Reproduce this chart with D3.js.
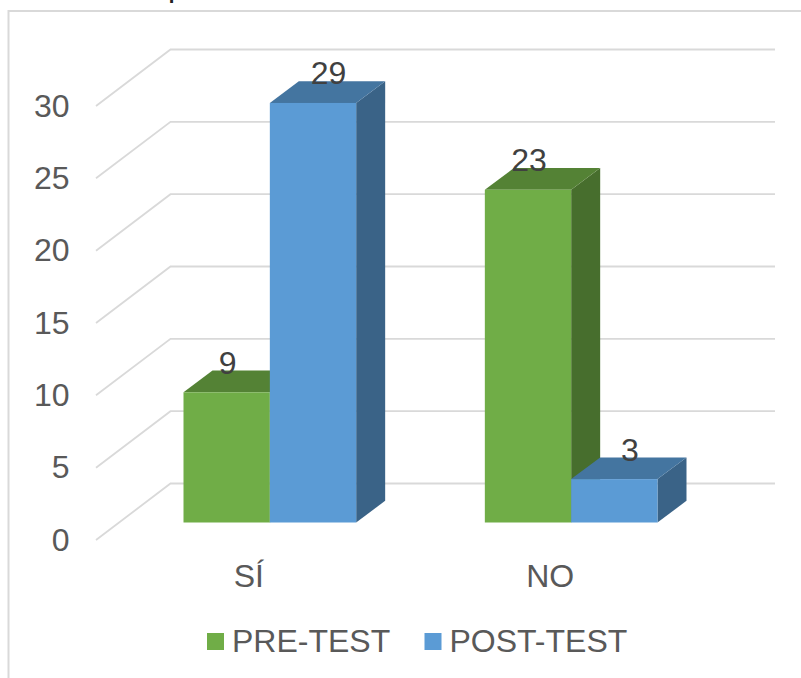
<!DOCTYPE html>
<html>
<head>
<meta charset="utf-8">
<script src="https://cdn.jsdelivr.net/npm/d3@7"></script>
<style>
  html, body { margin: 0; padding: 0; background: #fff; }
  svg { display: block; }
  text { font-family: "Liberation Sans", Arial, sans-serif; }
</style>
</head>
<body>
<svg id="chart"></svg>
<script>
const categories = ['SÍ', 'NO'];
const seriesNames = ['PRE-TEST', 'POST-TEST'];
const preTest = [9, 23];
const postTest = [29, 3];
const yTicks = [0, 5, 10, 15, 20, 25, 30];

const width = 801;
const height = 678;
const depthX = 29;
const depthY = 21.7;
const fontSize = 32;

const svg = d3.select('#chart').attr('width', width).attr('height', height);

// front plane of the bars
const y = d3.scaleLinear().domain([0, 30]).range([522.5, 88.5]);
const x0 = d3.scaleBand().domain(categories).range([183.5, 657.5]).paddingInner(0.427).paddingOuter(0);
const x1 = d3.scaleBand().domain(seriesNames).range([0, x0.bandwidth()]);
const color = d3.scaleOrdinal(seriesNames, ['#70ad47', '#5b9bd5']);

// clipped bit of the title, only the descender shows
svg.append('text')
    .attr('x', 168)
    .attr('y', -4)
    .attr('font-size', fontSize)
    .attr('fill', '#222')
    .text('p');

// chart frame, the right and bottom edges run off the picture
svg.append('path')
    .attr('d', d3.line()([[8.5, height], [8.5, 11], [width, 11]]))
    .attr('fill', 'none').attr('stroke', '#d9d9d9').attr('stroke-width', 2);

// gridlines: wall then floor diagonal
const wallY = d => y(d) - 39;
svg.append('g').selectAll('path')
    .data(yTicks)
    .join('path')
    .attr('d', d => d3.line()([[96, wallY(d) + 56.5], [170.5, wallY(d)], [775, wallY(d)]]))
    .attr('fill', 'none').attr('stroke', '#d9d9d9').attr('stroke-width', 1.8);

// y tick labels
svg.append('g').selectAll('text')
    .data(yTicks)
    .join('text')
    .attr('x', 69.5)
    .attr('y', d => wallY(d) + 56.5 + 10.5)
    .attr('text-anchor', 'end')
    .attr('font-size', fontSize)
    .attr('fill', '#595959')
    .text(d => d);

// category labels sit a bit left of their bars
svg.append('g').selectAll('text')
    .data(categories)
    .join('text')
    .attr('x', d => x0(d) + x0.bandwidth() / 2 - 21)
    .attr('y', 587)
    .attr('text-anchor', 'middle')
    .attr('font-size', fontSize)
    .attr('fill', '#595959')
    .text(d => d);

const rows = categories.flatMap((c, i) => [
    { cat: c, name: seriesNames[0], value: preTest[i] },
    { cat: c, name: seriesNames[1], value: postTest[i] }
]);

// draw order: pre-test first so post-test sits over its side wall
const bars = svg.append('g').selectAll('g')
    .data(rows)
    .join('g')
    .attr('transform', d => `translate(${x0(d.cat) + x1(d.name)},0)`);

const bw = x1.bandwidth();

bars.append('path') // side
    .attr('d', d => d3.line()([[bw, y(d.value)], [bw + depthX, y(d.value) - depthY], [bw + depthX, y(0) - depthY], [bw, y(0)]]) + 'Z')
    .attr('fill', d => d3.rgb(color(d.name)).darker(1.27));

bars.append('path') // top
    .attr('d', d => d3.line()([[0, y(d.value)], [depthX, y(d.value) - depthY], [bw + depthX, y(d.value) - depthY], [bw, y(d.value)]]) + 'Z')
    .attr('fill', d => d3.rgb(color(d.name)).darker(0.8));

bars.append('rect') // front
    .attr('width', bw)
    .attr('y', d => y(d.value))
    .attr('height', d => y(0) - y(d.value))
    .attr('fill', d => color(d.name));

// value labels
bars.append('text')
    .attr('x', d => bw / 2 + (d.name === seriesNames[0] ? 1 : 15.5))
    .attr('y', d => y(d.value) - 18.5)
    .attr('text-anchor', 'middle')
    .attr('font-size', fontSize)
    .attr('fill', '#404040')
    .text(d => d.value);

// legend
const legendX = [207, 424.5];
const legend = svg.append('g').selectAll('g')
    .data(seriesNames)
    .join('g')
    .attr('transform', (d, i) => `translate(${legendX[i]},633)`);
legend.append('rect').attr('width', 17).attr('height', 17).attr('fill', d => color(d));
legend.append('text')
    .attr('x', 25)
    .attr('y', 19)
    .attr('font-size', fontSize)
    .attr('fill', '#595959')
    .text(d => d);
</script>
</body>
</html>
